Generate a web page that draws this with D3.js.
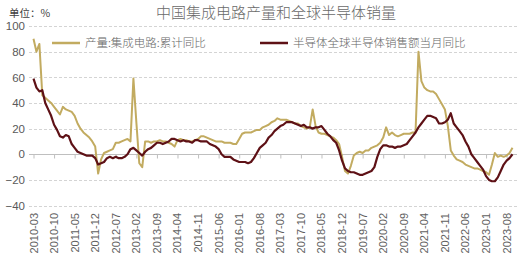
<!DOCTYPE html>
<html><head><meta charset="utf-8">
<script src="https://cdn.jsdelivr.net/npm/d3@7"></script>
<style>body{margin:0;background:#fff}svg{display:block}</style>
</head><body>
<svg id="c" width="530" height="265"></svg>
<script>
// ---------- data ----------
const startMonth = "2010-03";
const endMonth = "2023-10";
const tickLabels = ["2010-03","2010-10","2011-05","2011-12","2012-07","2013-02","2013-09","2014-04","2014-11","2015-06","2016-01","2016-08","2017-03","2017-10","2018-05","2018-12","2019-07","2020-02","2020-09","2021-04","2021-11","2022-06","2023-01","2023-08"];
const yTicks = [100, 80, 60, 40, 20, 0, -20, -40];
const seriesNames = ["产量:集成电路:累计同比", "半导体全球半导体销售额当月同比"];
// 产量:集成电路:累计同比 (monthly, 2010-03 .. 2023-10)
const icOutput = [
  90, 80, 86, 46, 44, 42, 40, 37, 34, 31,
  37, 35, 34, 33, 30, 24, 20, 17, 15, 13, 10, 6,
  -15, -4, 1, 2, 3, 4, 9, 9, 10, 11, 12, 10,
  59, 25, -7, -10, 10, 10, 9, 10, 10, 11, 10, 10,
  9, 8, 6, 11, 12, 11, 11, 10, 10, 11, 12, 14,
  14, 13, 12, 11, 10, 10, 10, 9, 9, 9, 8, 8,
  12, 16, 17, 17, 17, 18, 19, 19, 21, 22, 23, 25,
  26, 28, 27, 27, 27, 26, 25, 24, 24, 22, 21, 20,
  21, 35, 22, 17, 16, 16, 15, 14, 13, 11, 8, -2,
  -13, -15, -9, -1, 1, 2, 1, 3, 3, 5, 6, 7,
  9, 13, 21, 15, 17, 15, 14, 15, 16, 16, 16, 17,
  17, 80, 57, 52, 50, 49, 49, 47, 43, 39, 35, 22,
  3, -1, -4, -5, -6, -8, -9, -10, -11, -11, -12, -13,
  -14, -16, -8, 1, -2, -1, -2, -1, 1, 5
];
// 半导体全球半导体销售额当月同比
const semiSales = [
  59, 52, 49, 50, 40, 35, 30, 23, 19, 14,
  13, 15, 14, 8, 5, 2, 1, 0, -1, -1, -1, -3,
  -8, -7, -6, -3, -2, -3, -2, -3, -3, -2, 0, 4,
  5, 3, 1, -1, 2, 4, 5, 7, 9, 9, 8, 9,
  10, 12, 12, 11, 10, 11, 10, 10, 9, 11, 11, 10,
  10, 10, 8, 7, 6, 4, 0, -2, -2, -2, -4, -5,
  -6, -6, -6, -7, -6, -3, 1, 5, 7, 9, 13, 15,
  18, 20, 22, 23, 25, 25, 25, 24, 23, 22, 23, 21,
  21, 20, 21, 21, 22, 19, 16, 14, 11, 9, 3, -5,
  -11, -13, -14, -14, -15, -16, -16, -15, -14, -13, -10, -2,
  4, 7, 7, 6, 6, 5, 6, 6, 7, 8, 11, 14,
  17, 21, 24, 27, 30, 30, 29, 28, 24, 24, 25, 27,
  32, 24, 21, 18, 15, 10, 6, 0, -3, -6, -9, -12,
  -17, -20, -21, -21, -18, -13, -8, -5, -3, 0
];
const colors = ["#c2ab60", "#5e1116"];

// ---------- chart ----------
const parse = d3.timeParse("%Y-%m"), fmt = d3.timeFormat("%Y-%m");
const months = d3.timeMonth.range(parse(startMonth), d3.timeMonth.offset(parse(endMonth), 1)).map(fmt);

const svg = d3.select("#c");
svg.append("rect").attr("width", 530).attr("height", 265).attr("fill", "#fff");

const x = d3.scalePoint().domain(months).range([33.5, 512.5]);
const y = d3.scaleLinear().domain([-40, 100]).range([205.6, 26]);
const gx0 = 29, gx1 = 517;
const numFont = "'Liberation Sans', Arial, sans-serif";
const cjkFont = "'Noto Sans CJK SC', sans-serif";

// gridlines
svg.append("g").selectAll("line").data(yTicks.filter(d => d !== 0)).join("line")
  .attr("x1", gx0).attr("x2", gx1)
  .attr("y1", d => Math.round(y(d)) + 0.5).attr("y2", d => Math.round(y(d)) + 0.5)
  .attr("stroke", "#d4d4d4").attr("stroke-width", 1).attr("stroke-dasharray", "3,2");

// zero axis line + ticks
const xAxis = d3.axisBottom(x).tickValues(tickLabels).tickSize(4).tickFormat("");
const gx = svg.append("g").attr("transform", `translate(0,${Math.round(y(0)) + 0.5})`).call(xAxis);
gx.select(".domain").remove();
gx.selectAll(".tick line").attr("stroke", "#bfbfbf");
svg.append("line").attr("x1", gx0).attr("x2", gx1)
  .attr("y1", Math.round(y(0)) + 0.5).attr("y2", Math.round(y(0)) + 0.5)
  .attr("stroke", "#bfbfbf").attr("stroke-width", 1);

// x labels (rotated)
svg.append("g").selectAll("text").data(tickLabels).join("text")
  .attr("transform", d => `translate(${x(d) + 4},213) rotate(-90)`)
  .attr("text-anchor", "end")
  .attr("font-family", numFont).attr("font-size", 11).attr("fill", "#5f5f5f")
  .text(d => d);

// y labels
const yAxis = d3.axisLeft(y).tickValues(yTicks).tickSize(0).tickPadding(0);
const gy = svg.append("g").attr("transform", "translate(25,0)").call(yAxis);
gy.select(".domain").remove();
gy.selectAll("text").attr("font-family", numFont).attr("font-size", 11.5).attr("fill", "#595959");

// lines
const line = d3.line().x((d, i) => x(months[i])).y(d => y(d)).curve(d3.curveLinear);
[icOutput, semiSales].forEach((vals, k) => {
  svg.append("path").datum(vals).attr("d", line)
    .attr("fill", "none").attr("stroke", colors[k])
    .attr("stroke-width", k === 0 ? 2 : 2.2).attr("stroke-linejoin", "round");
});

// title & unit
svg.append("text").attr("x", 276).attr("y", 18).attr("text-anchor", "middle")
  .attr("font-family", cjkFont).attr("font-size", 15).attr("font-weight", 300).attr("fill", "#6a6a6a")
  .text("中国集成电路产量和全球半导体销量");
svg.append("text").attr("x", 9).attr("y", 17)
  .attr("font-family", cjkFont).attr("font-size", 10.5).attr("fill", "#404040")
  .text("单位：%");

// legend
const legendX = [52, 260];
seriesNames.forEach((name, k) => {
  svg.append("line").attr("x1", legendX[k]).attr("x2", legendX[k] + 28)
    .attr("y1", 43).attr("y2", 43).attr("stroke", colors[k]).attr("stroke-width", 2.5);
  svg.append("text").attr("x", legendX[k] + 33).attr("y", 47)
    .attr("font-family", cjkFont).attr("font-size", 11.5).attr("font-weight", 300).attr("fill", "#666")
    .text(name);
});
</script>
</body></html>
